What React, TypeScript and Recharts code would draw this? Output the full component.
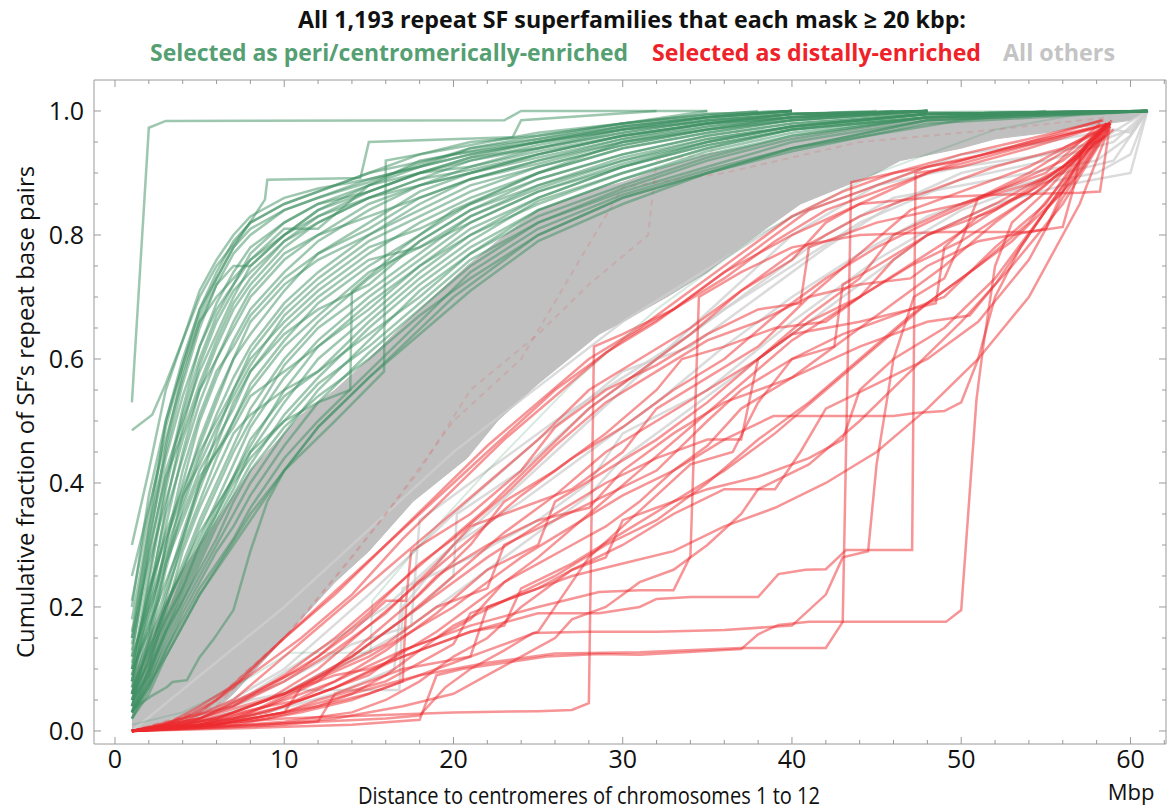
import React from 'react';
import { ComposedChart, Line, Area, XAxis, YAxis } from 'recharts';

const W = 1168;
const H = 810;
const X_DOMAIN: [number, number] = [-1.24, 62.1];
const Y_DOMAIN: [number, number] = [-0.021, 1.05];
const X_TICKS = [0, 2, 4, 6, 8, 10, 12, 14, 16, 18, 20, 22, 24, 26, 28, 30, 32, 34, 36, 38, 40, 42, 44, 46, 48, 50, 52, 54, 56, 58, 60, 62];
const Y_TICKS = [0, 0.05, 0.1, 0.15, 0.2, 0.25, 0.3, 0.35, 0.4, 0.45, 0.5, 0.55, 0.6, 0.65, 0.7, 0.75, 0.8, 0.85, 0.9, 0.95, 1.0];

const TITLE = 'All 1,193 repeat SF superfamilies that each mask \u2265 20 kbp:';
const LEGEND_GREEN = 'Selected as peri/centromerically-enriched';
const LEGEND_RED = 'Selected as distally-enriched';
const LEGEND_GRAY = 'All others';
const X_LABEL = 'Distance to centromeres of chromosomes 1 to 12';
const Y_LABEL = 'Cumulative fraction of SF\u2019s repeat base pairs';
const X_UNIT = 'Mbp';

// Gray "all others" dense band
const GRAY_X = [1, 2, 3, 4, 5, 6, 7, 8, 9, 10, 11, 12, 13, 15, 17.6, 20.8, 22.6, 25, 28.6, 30, 32.6, 35, 36.9, 40.5, 45, 46.4, 50, 52, 55, 56, 60, 61];
const GRAY_LO = [0, 0.002, 0.005, 0.01, 0.02, 0.035, 0.06, 0.09, 0.12, 0.15, 0.18, 0.21, 0.24, 0.29, 0.37, 0.44, 0.5, 0.56, 0.64, 0.66, 0.7, 0.74, 0.78, 0.85, 0.9, 0.92, 0.94, 0.955, 0.965, 0.97, 0.985, 1.0];
const GRAY_HI = [0.08, 0.15, 0.21, 0.26, 0.3, 0.34, 0.38, 0.42, 0.45, 0.48, 0.51, 0.53, 0.55, 0.6, 0.67, 0.75, 0.79, 0.84, 0.875, 0.885, 0.91, 0.93, 0.94, 0.96, 0.978, 0.983, 0.992, 0.997, 1.0, 1.0, 1.0, 1.0];

const GRAY_LINES: [number, number][][] = [
  [[1, 0], [5, 0.02], [8, 0.05], [10.9, 0.066], [16.8, 0.066], [17, 0.2], [20, 0.3], [24, 0.4], [28, 0.5], [32, 0.6], [36, 0.7], [40, 0.8], [45, 0.88], [50, 0.93], [55, 0.95], [59, 0.97], [60, 0.965], [61, 1]],
  [[1, 0], [6, 0.03], [10, 0.08], [14, 0.14], [17.5, 0.17], [18, 0.34], [22, 0.42], [26, 0.5], [30, 0.57], [34, 0.64], [38, 0.72], [42, 0.8], [46, 0.86], [50, 0.88], [54, 0.9], [58, 0.92], [60, 0.96], [61, 1]],
  [[1, 0], [5, 0.02], [10, 0.1], [15, 0.22], [20, 0.35], [25, 0.47], [30, 0.58], [34, 0.62], [38, 0.7], [42, 0.78], [46, 0.85], [50, 0.9], [55, 0.93], [58, 0.95], [61, 1]],
  [[1, 0], [4, 0.01], [8, 0.06], [12, 0.13], [16, 0.2], [20, 0.3], [24, 0.37], [28, 0.45], [32, 0.53], [36, 0.62], [40, 0.7], [44, 0.77], [48, 0.83], [52, 0.87], [56, 0.9], [59, 0.92], [61, 1]],
  [[1, 0], [5, 0.01], [9, 0.03], [13, 0.06], [16.5, 0.1], [17, 0.23], [21, 0.28], [25, 0.34], [28, 0.4], [30, 0.48], [35, 0.55], [40, 0.66], [45, 0.76], [50, 0.84], [54, 0.88], [58, 0.9], [60, 0.93], [61, 1]],
  [[1, 0], [10, 0.2], [20, 0.45], [30, 0.66], [40, 0.83], [45, 0.88], [50, 0.91], [55, 0.93], [58, 0.95], [60, 0.97], [61, 1]],
  [[1, 0], [6, 0.02], [10, 0.06], [14, 0.12], [18, 0.2], [20, 0.25], [20.2, 0.35], [24, 0.42], [28, 0.52], [32, 0.6], [36, 0.68], [40, 0.75], [44, 0.82], [50, 0.89], [55, 0.92], [59, 0.95], [61, 1]],
  [[1, 0], [5, 0.015], [9, 0.05], [13, 0.1], [17, 0.16], [21, 0.24], [25, 0.32], [28, 0.38], [30, 0.44], [33, 0.5], [36, 0.56], [40, 0.64], [44, 0.72], [48, 0.8], [52, 0.85], [56, 0.88], [60, 0.9], [61, 1]],
];

// Green lines on a shared distance grid (null = line has ended)
const GREEN_X = [1, 2, 3, 4, 5, 6, 7, 8, 10, 12, 15, 18, 21, 25, 30, 35, 40, 48, 61];
const GREEN_Y: (number | null)[][] = [
  [0.30, 0.42, 0.55, 0.63, 0.71, 0.76, 0.80, 0.83, 0.86, 0.875, 0.89, 0.91, 0.93, 0.95, 0.975, 0.99, 1, null, null],
  [0.20, 0.38, 0.50, 0.60, 0.68, 0.74, 0.79, 0.82, 0.85, 0.87, 0.90, 0.93, 0.95, 0.96, 0.98, 0.995, 1, null, null],
  [0.12, 0.30, 0.46, 0.58, 0.66, 0.72, 0.77, 0.80, 0.84, 0.86, 0.89, 0.91, 0.94, 0.96, 0.98, 1, null, null, null],
  [0.10, 0.25, 0.40, 0.52, 0.62, 0.69, 0.74, 0.78, 0.82, 0.85, 0.88, 0.91, 0.93, 0.95, 0.975, 0.99, 1, null, null],
  [0.15, 0.28, 0.42, 0.50, 0.58, 0.64, 0.70, 0.75, 0.80, 0.84, 0.87, 0.90, 0.92, 0.945, 0.97, 0.985, 0.995, 1, null],
  [0.08, 0.20, 0.33, 0.45, 0.55, 0.62, 0.68, 0.72, 0.78, 0.82, 0.86, 0.89, 0.92, 0.94, 0.965, 0.985, 0.995, 1, null],
  [0.06, 0.18, 0.30, 0.40, 0.50, 0.57, 0.63, 0.68, 0.74, 0.79, 0.84, 0.88, 0.91, 0.935, 0.96, 0.98, 0.99, 1, null],
  [0.11, 0.22, 0.32, 0.39, 0.46, 0.53, 0.60, 0.66, 0.72, 0.76, 0.80, 0.85, 0.89, 0.92, 0.95, 0.975, 0.99, 1, null],
  [0.05, 0.14, 0.26, 0.36, 0.44, 0.51, 0.57, 0.62, 0.69, 0.74, 0.80, 0.84, 0.88, 0.91, 0.945, 0.97, 0.985, 1, null],
  [0.09, 0.17, 0.24, 0.31, 0.40, 0.48, 0.55, 0.60, 0.66, 0.71, 0.77, 0.82, 0.86, 0.90, 0.94, 0.965, 0.985, 0.998, 1],
  [0.04, 0.12, 0.22, 0.30, 0.37, 0.44, 0.50, 0.56, 0.63, 0.69, 0.75, 0.80, 0.85, 0.89, 0.93, 0.96, 0.98, 0.995, 1],
  [0.07, 0.13, 0.20, 0.27, 0.34, 0.40, 0.46, 0.52, 0.60, 0.66, 0.73, 0.79, 0.84, 0.88, 0.925, 0.955, 0.975, 0.995, 1],
  [0.03, 0.10, 0.18, 0.25, 0.31, 0.37, 0.43, 0.49, 0.57, 0.63, 0.70, 0.76, 0.82, 0.87, 0.915, 0.95, 0.975, 0.995, 1],
  [0.05, 0.09, 0.16, 0.22, 0.28, 0.34, 0.39, 0.45, 0.53, 0.60, 0.67, 0.74, 0.80, 0.85, 0.90, 0.94, 0.97, 0.99, 1],
  [0.02, 0.08, 0.14, 0.20, 0.25, 0.30, 0.35, 0.40, 0.48, 0.55, 0.63, 0.71, 0.77, 0.83, 0.88, 0.925, 0.96, 0.99, 1],
  [0.03, 0.07, 0.13, 0.18, 0.23, 0.27, 0.31, 0.36, 0.44, 0.50, 0.58, 0.66, 0.74, 0.81, 0.865, 0.905, 0.94, 0.985, 1],
  [0.18, 0.33, 0.45, 0.56, 0.65, 0.72, 0.75, 0.75, 0.80, 0.83, 0.86, 0.88, 0.90, 0.93, 0.96, 0.98, 0.995, 1, null],
  [0.25, 0.36, 0.47, 0.57, 0.66, 0.70, 0.73, 0.76, 0.81, 0.81, 0.88, 0.90, 0.91, 0.94, 0.97, 0.99, 1, null, null],
  [0.13, 0.27, 0.37, 0.47, 0.55, 0.60, 0.66, 0.71, 0.77, 0.80, 0.83, 0.86, 0.89, 0.92, 0.955, 0.98, 0.99, 1, null],
  [0.08, 0.19, 0.28, 0.35, 0.42, 0.47, 0.52, 0.58, 0.65, 0.70, 0.76, 0.78, 0.83, 0.875, 0.92, 0.95, 0.975, 0.995, 1],
  [0.10, 0.16, 0.27, 0.34, 0.41, 0.45, 0.49, 0.54, 0.58, 0.62, 0.68, 0.75, 0.81, 0.86, 0.91, 0.945, 0.97, 0.995, 1],
  [0.06, 0.11, 0.19, 0.29, 0.36, 0.42, 0.48, 0.51, 0.55, 0.58, 0.66, 0.73, 0.79, 0.855, 0.90, 0.94, 0.97, 0.99, 1],
  [0.21, 0.35, 0.49, 0.59, 0.67, 0.73, 0.78, 0.81, 0.84, 0.86, 0.885, 0.915, 0.94, 0.955, 0.98, 0.995, 1, null, null],
  [0.07, 0.21, 0.36, 0.49, 0.59, 0.66, 0.71, 0.74, 0.79, 0.83, 0.87, 0.90, 0.925, 0.95, 0.97, 0.99, 1, null, null],
  [0.16, 0.31, 0.44, 0.54, 0.62, 0.68, 0.72, 0.77, 0.82, 0.85, 0.87, 0.90, 0.925, 0.94, 0.965, 0.985, 1, null, null],
  [0.09, 0.22, 0.35, 0.44, 0.53, 0.60, 0.65, 0.70, 0.76, 0.80, 0.85, 0.88, 0.90, 0.93, 0.96, 0.98, 0.995, 1, null],
  [0.04, 0.15, 0.27, 0.38, 0.47, 0.54, 0.60, 0.64, 0.71, 0.77, 0.82, 0.87, 0.90, 0.925, 0.955, 0.975, 0.99, 1, null],
  [0.12, 0.20, 0.29, 0.37, 0.45, 0.50, 0.55, 0.61, 0.68, 0.73, 0.79, 0.83, 0.87, 0.91, 0.945, 0.97, 0.985, 1, null],
  [0.05, 0.11, 0.21, 0.31, 0.39, 0.46, 0.53, 0.58, 0.64, 0.68, 0.72, 0.79, 0.84, 0.89, 0.93, 0.96, 0.98, 0.995, 1],
  [0.03, 0.09, 0.17, 0.24, 0.30, 0.36, 0.41, 0.46, 0.55, 0.62, 0.69, 0.75, 0.80, 0.86, 0.91, 0.945, 0.97, 0.99, 1],
  [0.02, 0.06, 0.12, 0.17, 0.22, 0.26, 0.30, 0.34, 0.42, 0.49, 0.57, 0.64, 0.71, 0.79, 0.85, 0.90, 0.935, 0.98, 1],
  [0.08, 0.24, 0.39, 0.51, 0.60, 0.67, 0.72, 0.76, 0.80, 0.84, 0.88, 0.92, 0.935, 0.955, 0.975, 0.99, 1, null, null],
  [0.14, 0.29, 0.41, 0.48, 0.56, 0.63, 0.69, 0.73, 0.79, 0.82, 0.86, 0.89, 0.905, 0.93, 0.96, 0.98, 0.995, 1, null],
  [0.06, 0.16, 0.30, 0.42, 0.51, 0.58, 0.62, 0.67, 0.73, 0.77, 0.81, 0.86, 0.89, 0.915, 0.95, 0.97, 0.99, 1, null],
  [0.10, 0.23, 0.31, 0.38, 0.43, 0.49, 0.54, 0.59, 0.67, 0.72, 0.78, 0.81, 0.85, 0.90, 0.94, 0.965, 0.985, 1, null],
  [0.04, 0.10, 0.20, 0.26, 0.33, 0.39, 0.45, 0.50, 0.59, 0.65, 0.71, 0.77, 0.83, 0.88, 0.92, 0.955, 0.975, 0.995, 1],
  [0.03, 0.08, 0.15, 0.21, 0.27, 0.33, 0.38, 0.43, 0.51, 0.57, 0.65, 0.72, 0.78, 0.84, 0.89, 0.93, 0.96, 0.99, 1],
  [0.05, 0.12, 0.18, 0.23, 0.29, 0.35, 0.40, 0.44, 0.50, 0.56, 0.62, 0.69, 0.76, 0.82, 0.875, 0.92, 0.955, 0.99, 1],
  [0.02, 0.07, 0.13, 0.19, 0.24, 0.29, 0.33, 0.38, 0.46, 0.53, 0.61, 0.68, 0.75, 0.82, 0.87, 0.91, 0.95, 0.985, 1],
  [0.04, 0.10, 0.16, 0.21, 0.26, 0.31, 0.37, 0.42, 0.49, 0.54, 0.60, 0.67, 0.73, 0.80, 0.86, 0.90, 0.94, 0.985, 1],
  [0.06, 0.14, 0.23, 0.32, 0.40, 0.45, 0.50, 0.55, 0.62, 0.67, 0.74, 0.78, 0.82, 0.87, 0.91, 0.95, 0.975, 0.995, 1],
  [0.03, 0.09, 0.16, 0.23, 0.30, 0.35, 0.41, 0.47, 0.54, 0.58, 0.64, 0.70, 0.77, 0.84, 0.89, 0.935, 0.965, 0.99, 1],
];

// Green lines with individual shapes
const GREEN_EXTRA: [number, number][][] = [
  [[1, 0.53], [2, 0.973], [3, 0.984], [23, 0.985], [24, 1], [35, 1]],
  [[1, 0.485], [2.2, 0.51], [3, 0.56], [4, 0.63], [5, 0.7], [6, 0.75], [8, 0.82], [10, 0.85], [15, 0.9], [20, 0.93], [30, 0.97], [40, 0.995], [45, 1]],
  [[1, 0.15], [3, 0.5], [5, 0.68], [7, 0.78], [8.86, 0.857], [9, 0.889], [14.5, 0.892], [15, 0.95], [23.5, 0.958], [24, 0.985], [32, 1]],
  [[1, 0.034], [2.07, 0.055], [3.07, 0.071], [3.4, 0.079], [4.25, 0.082], [5, 0.119], [5.8, 0.147], [7, 0.195], [8, 0.29], [9, 0.37], [10, 0.42], [12, 0.49], [15, 0.57], [20, 0.7], [25, 0.8], [30, 0.86], [40, 0.94], [50, 0.985], [55, 1]],
  [[1, 0.03], [3, 0.12], [5, 0.22], [8, 0.35], [10, 0.42], [13, 0.5], [15.9, 0.58], [16, 0.92], [20, 0.94], [25, 0.965], [30, 0.98], [38, 1]],
  [[1, 0.06], [3, 0.2], [5, 0.32], [8, 0.45], [10, 0.5], [12, 0.53], [13.9, 0.55], [14, 0.71], [17, 0.78], [20, 0.84], [25, 0.9], [30, 0.95], [40, 0.99], [46, 1]],
];
const GREEN_FAINT: [number, number][][] = [
  [[1, 0.01], [4, 0.03], [7, 0.07], [10.3, 0.126], [15.1, 0.126], [15.2, 0.21], [18, 0.3], [22, 0.42], [27, 0.56], [32, 0.68], [38, 0.8], [45, 0.9], [52, 0.97], [58, 1]],
];

// Red (distally-enriched) lines
const RED_LINES: [number, number][][] = [
  [[1, 0], [3, 0.01], [5, 0.03], [7, 0.07], [10, 0.15], [13, 0.22], [16, 0.3], [19, 0.38], [22, 0.46], [25, 0.53], [28, 0.6], [31, 0.65], [34, 0.71], [37, 0.77], [40, 0.83], [43, 0.87], [46, 0.9], [50, 0.93], [54, 0.955], [58.4, 0.985]],
  [[1, 0], [4, 0.015], [7, 0.05], [10, 0.12], [13, 0.19], [16, 0.26], [19, 0.33], [22, 0.4], [25, 0.47], [28, 0.55], [31, 0.6], [34, 0.65], [37, 0.71], [40, 0.77], [44, 0.83], [48, 0.87], [52, 0.91], [56, 0.94], [58.8, 0.975]],
  [[1, 0], [5, 0.02], [8, 0.06], [11, 0.1], [14, 0.16], [16, 0.21], [17.2, 0.21], [17.5, 0.29], [21, 0.35], [24, 0.42], [26, 0.49], [29, 0.55], [32, 0.59], [35, 0.64], [38, 0.68], [40.5, 0.69], [41, 0.78], [45, 0.82], [50, 0.85], [55, 0.89], [58.5, 0.96]],
  [[1, 0], [5, 0.01], [8, 0.03], [11, 0.07], [14, 0.12], [17, 0.18], [20, 0.25], [23, 0.32], [26, 0.38], [29, 0.45], [32, 0.5], [35, 0.55], [38, 0.6], [41, 0.66], [44, 0.7], [47, 0.75], [50, 0.79], [54, 0.86], [59, 0.97]],
  [[1, 0], [6, 0.01], [10, 0.04], [13, 0.08], [16, 0.13], [19, 0.19], [22, 0.26], [25, 0.3], [26, 0.37], [29, 0.42], [32, 0.47], [35, 0.53], [38, 0.6], [41, 0.67], [44, 0.73], [46, 0.8], [50, 0.85], [55, 0.9], [58.2, 0.98]],
  [[1, 0], [5, 0.02], [10, 0.06], [15, 0.12], [20, 0.2], [24, 0.28], [27, 0.33], [30, 0.38], [33, 0.42], [36, 0.47], [38.9, 0.508], [46, 0.508], [47.3, 0.513], [49, 0.516], [50, 0.53], [51, 0.6], [52, 0.7], [53.5, 0.78], [55, 0.84], [57, 0.9], [58.8, 0.975]],
  [[1, 0], [8, 0.005], [14, 0.01], [18, 0.018], [19, 0.09], [20.5, 0.1], [23, 0.11], [25.5, 0.12], [28.6, 0.124], [31, 0.123], [37, 0.132], [38, 0.156], [39.2, 0.171], [41, 0.176], [49.1, 0.176], [50, 0.195], [50.9, 0.534], [51.3, 0.62], [52, 0.75], [53, 0.82], [55, 0.87], [57, 0.93], [58.6, 0.98]],
  [[1, 0], [5, 0.01], [10, 0.02], [15, 0.025], [20, 0.03], [25, 0.032], [27, 0.034], [28, 0.045], [28.3, 0.62], [30, 0.64], [33, 0.68], [36, 0.74], [40, 0.8], [44, 0.85], [48, 0.9], [52, 0.93], [56, 0.96], [58.8, 0.98]],
  [[1, 0], [6, 0.01], [10, 0.03], [14, 0.06], [18, 0.09], [22, 0.11], [26, 0.125], [31, 0.127], [37, 0.134], [42, 0.134], [43, 0.176], [43.5, 0.885], [46, 0.9], [50, 0.92], [54, 0.95], [58.3, 0.985]],
  [[1, 0], [5, 0.01], [9, 0.03], [13, 0.07], [17, 0.12], [21, 0.16], [25, 0.19], [28.6, 0.19], [31, 0.2], [32, 0.213], [34, 0.216], [38, 0.216], [39.2, 0.253], [40.8, 0.26], [42, 0.261], [43.2, 0.292], [47.1, 0.292], [47.3, 0.9], [50, 0.91], [54, 0.94], [58.8, 0.98]],
  [[1, 0], [5, 0.015], [9, 0.04], [13, 0.08], [17, 0.13], [21, 0.17], [25, 0.2], [28.6, 0.224], [31, 0.227], [33, 0.227], [34, 0.282], [34.5, 0.7], [37, 0.74], [40, 0.78], [44, 0.8], [49, 0.805], [54, 0.805], [56, 0.813], [56.6, 0.872], [57.1, 0.934], [58.6, 0.98]],
  [[1, 0], [4, 0.005], [8, 0.01], [12, 0.015], [16, 0.02], [18, 0.025], [19.5, 0.07], [21, 0.1], [23, 0.13], [24.7, 0.158], [28, 0.16], [32, 0.16], [36, 0.163], [40, 0.17], [42, 0.22], [43, 0.28], [44.5, 0.29], [45, 0.43], [46, 0.6], [47.2, 0.7], [49, 0.73], [50, 0.79], [51, 0.86], [54, 0.9], [58.8, 0.98]],
  [[1, 0], [6, 0.02], [10, 0.06], [14, 0.12], [18, 0.2], [22, 0.28], [26, 0.35], [29, 0.4], [32, 0.44], [35, 0.47], [37, 0.47], [38, 0.6], [40, 0.64], [44, 0.66], [47, 0.68], [48.5, 0.69], [49, 0.78], [51, 0.83], [54, 0.87], [57, 0.93], [58.9, 0.985]],
  [[1, 0], [5, 0.01], [9, 0.04], [12, 0.08], [15, 0.15], [18, 0.22], [21, 0.3], [23, 0.37], [26, 0.42], [29, 0.48], [32, 0.55], [33.5, 0.6], [36, 0.62], [39, 0.65], [42, 0.66], [44, 0.7], [46, 0.76], [48, 0.8], [52, 0.84], [56, 0.9], [58.4, 0.97]],
  [[1, 0], [3, 0.005], [6, 0.02], [9, 0.05], [12, 0.1], [15, 0.17], [18, 0.24], [21, 0.31], [24, 0.38], [27, 0.44], [30, 0.49], [33, 0.55], [36, 0.6], [39, 0.67], [42, 0.73], [45, 0.78], [48, 0.82], [52, 0.87], [56, 0.92], [58.8, 0.98]],
  [[1, 0], [4, 0.01], [7, 0.03], [10, 0.06], [13, 0.1], [16, 0.14], [19, 0.2], [22, 0.23], [23, 0.3], [26, 0.34], [29, 0.38], [32, 0.42], [35, 0.5], [37, 0.55], [40, 0.6], [43, 0.64], [46, 0.67], [49, 0.7], [52, 0.78], [55, 0.85], [57.9, 0.965]],
  [[1, 0], [5, 0.005], [10, 0.015], [14, 0.03], [16, 0.05], [18, 0.08], [20, 0.12], [22, 0.15], [24, 0.2], [27, 0.26], [30, 0.3], [33, 0.35], [36, 0.39], [39, 0.39], [40.5, 0.45], [42, 0.52], [45, 0.56], [48, 0.6], [51, 0.66], [54, 0.76], [56, 0.86], [58.8, 0.98]],
  [[1, 0], [6, 0.01], [9, 0.02], [12, 0.04], [15, 0.06], [17, 0.08], [17.2, 0.2], [19, 0.25], [22, 0.3], [25, 0.34], [28, 0.36], [30, 0.42], [33, 0.48], [36, 0.53], [40, 0.57], [44, 0.62], [48, 0.66], [50.5, 0.67], [52, 0.72], [54, 0.8], [56, 0.88], [58.5, 0.975]],
  [[1, 0], [4, 0.02], [7, 0.04], [10, 0.08], [13, 0.13], [16, 0.19], [19, 0.27], [21, 0.33], [24, 0.36], [27, 0.39], [30, 0.45], [32, 0.52], [35, 0.57], [38, 0.62], [41, 0.7], [44, 0.77], [47, 0.84], [50, 0.87], [54, 0.91], [58.8, 0.98]],
  [[1, 0], [5, 0.005], [9, 0.01], [13, 0.02], [17, 0.04], [20, 0.06], [22, 0.09], [24, 0.12], [26, 0.15], [27, 0.18], [29, 0.2], [31, 0.24], [33, 0.26], [35, 0.3], [37, 0.35], [38, 0.39], [41, 0.43], [44, 0.5], [47, 0.58], [50, 0.66], [53, 0.75], [56, 0.85], [58.7, 0.97]],
  [[1, 0], [3, 0.01], [5, 0.04], [8, 0.09], [11, 0.15], [14, 0.22], [17, 0.31], [20, 0.39], [23, 0.47], [26, 0.54], [29, 0.61], [32, 0.66], [35, 0.72], [38, 0.78], [41, 0.84], [44, 0.87], [48, 0.91], [53, 0.94], [58.2, 0.975]],
  [[1, 0], [7, 0.01], [11, 0.03], [14, 0.05], [16, 0.07], [19, 0.1], [22, 0.13], [25, 0.16], [26.5, 0.22], [28, 0.28], [30, 0.33], [32, 0.38], [34, 0.43], [36.5, 0.45], [38, 0.53], [40, 0.6], [42.5, 0.62], [43, 0.72], [45, 0.75], [48, 0.8], [52, 0.85], [56, 0.91], [58.8, 0.98]],
  [[1, 0], [4, 0.01], [7, 0.04], [10, 0.09], [13, 0.15], [16, 0.22], [19, 0.29], [22, 0.36], [25, 0.44], [28, 0.52], [31, 0.58], [34, 0.64], [37, 0.71], [40, 0.76], [42, 0.82], [44, 0.85], [48, 0.86], [52, 0.865], [57, 0.868], [58.2, 0.87], [58.8, 0.98]],
  [[1, 0], [5, 0.02], [9, 0.07], [12, 0.12], [15, 0.19], [18, 0.27], [20, 0.31], [23, 0.38], [26, 0.46], [29, 0.53], [32, 0.58], [35, 0.63], [38, 0.66], [41, 0.7], [44, 0.72], [47, 0.73], [48, 0.75], [51, 0.79], [53, 0.8], [55, 0.81], [56, 0.87], [57.5, 0.95], [58.6, 0.98]],
  [[1, 0], [3, 0.005], [5, 0.01], [7, 0.02], [9, 0.04], [11, 0.05], [13, 0.07], [15, 0.09], [17, 0.13], [19, 0.15], [21, 0.18], [23, 0.24], [25, 0.27], [27, 0.3], [29, 0.33], [31, 0.37], [33, 0.42], [35, 0.46], [37, 0.52], [40, 0.57], [43, 0.63], [46, 0.69], [49, 0.75], [52, 0.82], [55, 0.88], [58.8, 0.98]],
  [[1, 0], [4, 0.005], [7, 0.015], [10, 0.03], [12, 0.05], [14, 0.065], [16, 0.08], [18, 0.11], [20, 0.14], [21, 0.19], [23, 0.21], [25, 0.23], [27, 0.26], [29, 0.28], [30, 0.34], [32, 0.36], [35, 0.39], [38, 0.41], [41, 0.44], [43, 0.47], [44, 0.55], [46, 0.6], [49, 0.65], [52, 0.73], [55, 0.84], [58.3, 0.965]],
  [[1, 0], [2, 0.005], [4, 0.02], [6, 0.05], [8, 0.1], [10, 0.15], [12, 0.2], [14, 0.25], [16, 0.3], [18, 0.35], [20, 0.4], [22, 0.45], [24, 0.5], [26, 0.55], [28, 0.59], [30, 0.63], [33, 0.68], [36, 0.73], [39, 0.79], [42, 0.84], [46, 0.88], [50, 0.92], [54, 0.95], [58.8, 0.98]],
  [[1, 0], [6, 0.005], [10, 0.01], [12, 0.015], [13, 0.06], [15, 0.08], [17, 0.1], [19, 0.11], [21, 0.12], [22, 0.2], [24, 0.22], [27, 0.25], [30, 0.27], [33, 0.29], [36, 0.33], [39, 0.36], [42, 0.4], [45, 0.45], [48, 0.52], [51, 0.6], [54, 0.7], [57, 0.85], [58.7, 0.97]],
  [[1, 0], [4, 0.01], [7, 0.02], [10, 0.04], [13, 0.07], [16, 0.11], [19, 0.16], [22, 0.22], [25, 0.28], [28, 0.35], [31, 0.42], [34, 0.49], [37, 0.56], [40, 0.63], [44, 0.7], [48, 0.77], [52, 0.84], [56, 0.91], [58.6, 0.975]],
  [[1, 0], [3, 0.003], [6, 0.01], [9, 0.025], [12, 0.04], [14, 0.06], [16, 0.09], [18, 0.13], [20, 0.17], [23, 0.21], [26, 0.25], [29, 0.3], [32, 0.34], [35, 0.4], [38, 0.47], [41, 0.53], [44, 0.6], [47, 0.67], [50, 0.73], [53, 0.79], [56, 0.87], [58.8, 0.98]],
  [[1, 0], [5, 0.01], [8, 0.02], [10, 0.03], [11, 0.07], [13, 0.09], [15, 0.1], [17, 0.12], [19, 0.14], [21, 0.16], [23, 0.17], [24, 0.23], [27, 0.27], [30, 0.32], [33, 0.37], [36, 0.42], [39, 0.48], [42, 0.55], [45, 0.62], [48, 0.69], [51, 0.75], [54, 0.82], [58.5, 0.97]],
];
const RED_FAINT: [number, number][][] = [
  [[1, 0], [5, 0.03], [10, 0.15], [14, 0.28], [18, 0.42], [21, 0.55], [25, 0.64], [28, 0.72], [31.5, 0.8], [32, 0.92], [35, 0.93], [37.9, 0.988], [50, 0.995], [58.8, 1]],
  [[1, 0], [6, 0.04], [11, 0.18], [16, 0.35], [20, 0.5], [24, 0.6], [30, 0.877], [36, 0.9], [44, 0.95], [52, 0.97], [58.8, 0.99]],
];

const toPts = (pairs: [number, number][]) => pairs.map(([x, y]) => ({ x, y }));
const GREEN_SERIES = GREEN_Y.map((row) =>
  row.map((y, i) => ({ x: GREEN_X[i], y })).filter((p) => p.y !== null)
);
const GRAY_BAND = GRAY_X.map((x, i) => ({ x, range: [GRAY_LO[i], GRAY_HI[i]] }));

const FONT = '"Open Sans", "Noto Sans", sans-serif';
const AXIS_COLOR = '#9a9a9a';
const GREEN = '#3d8f62';
const RED = '#ee2a2e';

const isMajorX = (v: number) => Math.abs(v % 10) < 1e-6;
const isMajorY = (v: number) => Math.abs(v * 5 - Math.round(v * 5)) < 1e-6;

const BottomTick = (props: any) => {
  const { x, y, payload } = props;
  const major = isMajorX(payload.value);
  return (
    <g>
      <line x1={x} x2={x} y1={y} y2={y - (major ? 7 : 4)} stroke={AXIS_COLOR} strokeWidth={1} />
      {major && payload.value <= 60 && (
        <text x={x} y={y + 24} textAnchor="middle" fontFamily={FONT} fontSize={25} fill="#111">
          {payload.value}
        </text>
      )}
    </g>
  );
};
const TopTick = (props: any) => {
  const { x, y, payload } = props;
  const major = isMajorX(payload.value);
  return <line x1={x} x2={x} y1={y} y2={y + (major ? 7 : 4)} stroke={AXIS_COLOR} strokeWidth={1} />;
};
const LeftTick = (props: any) => {
  const { x, y, payload } = props;
  const major = isMajorY(payload.value);
  return (
    <g>
      <line x1={x} x2={x + (major ? 7 : 4)} y1={y} y2={y} stroke={AXIS_COLOR} strokeWidth={1} />
      {major && (
        <text x={x - 10} y={y} dy="0.36em" textAnchor="end" fontFamily={FONT} fontSize={25} fill="#111">
          {payload.value.toFixed(1)}
        </text>
      )}
    </g>
  );
};
const RightTick = (props: any) => {
  const { x, y, payload } = props;
  const major = isMajorY(payload.value);
  return <line x1={x} x2={x - (major ? 7 : 4)} y1={y} y2={y} stroke={AXIS_COLOR} strokeWidth={1} />;
};

export default function App() {
  return (
    <div style={{ position: 'absolute', left: 0, top: 0, width: W, height: H, background: '#fff' }}>
      <ComposedChart width={W} height={H} margin={{ top: 0, right: 0, bottom: 0, left: 0 }}>
        <XAxis xAxisId="b" dataKey="x" type="number" domain={X_DOMAIN} allowDataOverflow ticks={X_TICKS} interval={0}
          orientation="bottom" height={66} tickSize={0} tickMargin={0} tickLine={false}
          axisLine={{ stroke: AXIS_COLOR }} tick={<BottomTick />} />
        <XAxis xAxisId="t" dataKey="x" type="number" domain={X_DOMAIN} allowDataOverflow ticks={X_TICKS} interval={0}
          orientation="top" height={80} tickSize={0} tickMargin={0} tickLine={false}
          axisLine={{ stroke: AXIS_COLOR }} tick={<TopTick />} />
        <YAxis yAxisId="l" type="number" domain={Y_DOMAIN} allowDataOverflow ticks={Y_TICKS} interval={0}
          orientation="left" width={94} tickSize={0} tickMargin={0} tickLine={false}
          axisLine={{ stroke: AXIS_COLOR }} tick={<LeftTick />} />
        <YAxis yAxisId="r" type="number" domain={Y_DOMAIN} allowDataOverflow ticks={Y_TICKS} interval={0}
          orientation="right" width={2} tickSize={0} tickMargin={0} tickLine={false}
          axisLine={{ stroke: AXIS_COLOR }} tick={<RightTick />} />
        <Area xAxisId="b" yAxisId="l" data={GRAY_BAND} dataKey="range" type="linear" stroke="#c0c0c0" strokeWidth={1}
          fill="#c0c0c0" fillOpacity={1} isAnimationActive={false} dot={false} activeDot={false} />
        {GRAY_LINES.map((l, i) => (
          <Line key={'gl' + i} xAxisId="b" yAxisId="l" data={toPts(l)} dataKey="y" type="linear" stroke="#cfcfcf" strokeOpacity={0.75} strokeWidth={2.5} dot={false} activeDot={false} isAnimationActive={false} />
        ))}
        {GREEN_FAINT.map((l, i) => (
          <Line key={'gf' + i} xAxisId="b" yAxisId="l" data={toPts(l)} dataKey="y" type="linear" stroke={GREEN} strokeOpacity={0.2} strokeWidth={2} dot={false} activeDot={false} isAnimationActive={false} />
        ))}
        {RED_FAINT.map((l, i) => (
          <Line key={'rf' + i} xAxisId="b" yAxisId="l" data={toPts(l)} dataKey="y" type="linear" stroke={RED} strokeOpacity={0.13} strokeWidth={2} strokeDasharray="6 5" dot={false} activeDot={false} isAnimationActive={false} />
        ))}
        {GREEN_SERIES.map((d, i) => (
          <Line key={'g' + i} xAxisId="b" yAxisId="l" data={d} dataKey="y" type="linear" stroke={GREEN} strokeOpacity={0.5} strokeWidth={2.5} dot={false} activeDot={false} isAnimationActive={false} />
        ))}
        {GREEN_EXTRA.map((l, i) => (
          <Line key={'ge' + i} xAxisId="b" yAxisId="l" data={toPts(l)} dataKey="y" type="linear" stroke={GREEN} strokeOpacity={0.5} strokeWidth={2.5} dot={false} activeDot={false} isAnimationActive={false} />
        ))}
        {RED_LINES.map((l, i) => (
          <Line key={'r' + i} xAxisId="b" yAxisId="l" data={toPts(l)} dataKey="y" type="linear" stroke={RED} strokeOpacity={0.5} strokeWidth={2.5} dot={false} activeDot={false} isAnimationActive={false} />
        ))}
      </ComposedChart>
      <svg width={W} height={H} style={{ position: 'absolute', left: 0, top: 0, pointerEvents: 'none' }}>
        <text x={632} y={28} textAnchor="middle" fontFamily={FONT} fontWeight={700} fontSize={23} fill="#111" textLength={668} lengthAdjust="spacingAndGlyphs">
          {TITLE}
        </text>
        <text x={150} y={61} fontFamily={FONT} fontWeight={700} fontSize={23} fill="#559f73" textLength={478} lengthAdjust="spacingAndGlyphs">
          {LEGEND_GREEN}
        </text>
        <text x={652} y={61} fontFamily={FONT} fontWeight={700} fontSize={23} fill="#ee2228" textLength={329} lengthAdjust="spacingAndGlyphs">
          {LEGEND_RED}
        </text>
        <text x={1003} y={61} fontFamily={FONT} fontWeight={700} fontSize={23} fill="#c4c4c4" textLength={112} lengthAdjust="spacingAndGlyphs">
          {LEGEND_GRAY}
        </text>
        <text x={589} y={804} textAnchor="middle" fontFamily={FONT} fontSize={24} fill="#111" textLength={462} lengthAdjust="spacingAndGlyphs">
          {X_LABEL}
        </text>
        <text x={1131} y={800} textAnchor="middle" fontFamily={FONT} fontSize={22} fill="#111">
          {X_UNIT}
        </text>
        <text x={0} y={0} transform="translate(34, 412) rotate(-90)" textAnchor="middle" fontFamily={FONT} fontSize={24}
          fill="#111" textLength={492} lengthAdjust="spacingAndGlyphs">
          {Y_LABEL}
        </text>
      </svg>
    </div>
  );
}
